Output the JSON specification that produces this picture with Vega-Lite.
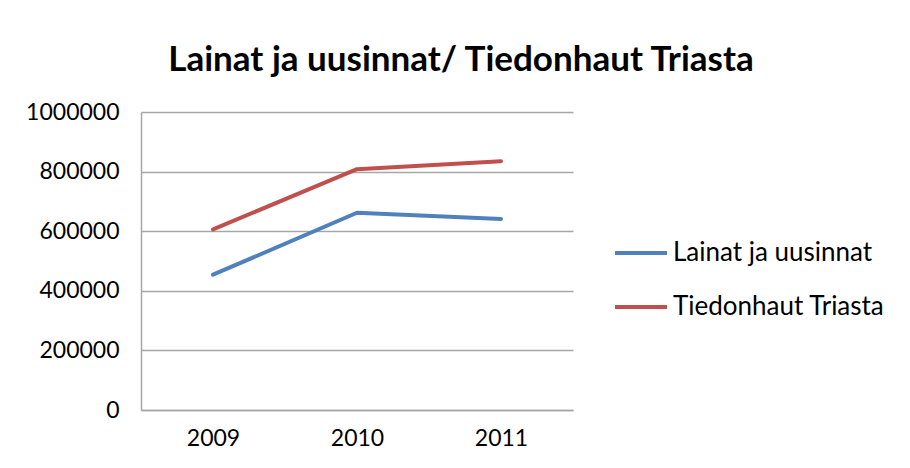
{
  "$schema": "https://vega.github.io/schema/vega-lite/v6.json",
  "width": 432,
  "height": 298,
  "autosize": {"type": "none"},
  "padding": {"left": 141, "top": 112, "right": 337, "bottom": 58},
  "background": "white",
  "title": {
    "text": "Lainat ja uusinnat/ Tiedonhaut Triasta",
    "font": "Lato",
    "fontSize": 35,
    "fontWeight": "bold",
    "color": "#000000",
    "anchor": "middle",
    "dx": 104,
    "offset": 23
  },
  "data": {
    "values": [
      {"vuosi": "2009", "sarja": "Lainat ja uusinnat", "arvo": 454000},
      {"vuosi": "2010", "sarja": "Lainat ja uusinnat", "arvo": 662000},
      {"vuosi": "2011", "sarja": "Lainat ja uusinnat", "arvo": 641000},
      {"vuosi": "2009", "sarja": "Tiedonhaut Triasta", "arvo": 606000},
      {"vuosi": "2010", "sarja": "Tiedonhaut Triasta", "arvo": 808000},
      {"vuosi": "2011", "sarja": "Tiedonhaut Triasta", "arvo": 835000}
    ]
  },
  "mark": {"type": "line", "strokeWidth": 4, "strokeCap": "round", "strokeJoin": "round"},
  "encoding": {
    "x": {
      "field": "vuosi",
      "type": "ordinal",
      "title": null,
      "scale": {"type": "point", "padding": 0.5},
      "axis": {
        "labelAngle": 0,
        "labelFont": "Lato",
        "labelFontSize": 23,
        "labelColor": "#000000",
        "labelPadding": 17,
        "ticks": false,
        "domainColor": "#A6A6A6",
        "domainWidth": 1.5,
        "grid": false
      }
    },
    "y": {
      "field": "arvo",
      "type": "quantitative",
      "title": null,
      "scale": {"domain": [0, 1000000], "nice": false},
      "axis": {
        "values": [0, 200000, 400000, 600000, 800000, 1000000],
        "format": "d",
        "labelFont": "Lato",
        "labelFontSize": 23,
        "labelColor": "#000000",
        "labelPadding": 22,
        "ticks": false,
        "domainColor": "#A6A6A6",
        "domainWidth": 1.5,
        "gridColor": "#A6A6A6",
        "gridWidth": 1.5
      }
    },
    "color": {
      "field": "sarja",
      "type": "nominal",
      "title": null,
      "scale": {"domain": ["Lainat ja uusinnat", "Tiedonhaut Triasta"], "range": ["#4F81BD", "#C0504D"]},
      "legend": {
        "orient": "none",
        "legendX": 472,
        "legendY": 113,
        "symbolType": "stroke",
        "symbolSize": 2704,
        "symbolStrokeWidth": 4,
        "labelFont": "Lato",
        "labelFontSize": 26,
        "labelColor": "#000000",
        "labelOffset": 4,
        "labelLimit": 400,
        "rowPadding": 13
      }
    }
  },
  "config": {
    "view": {"stroke": null}
  }
}
